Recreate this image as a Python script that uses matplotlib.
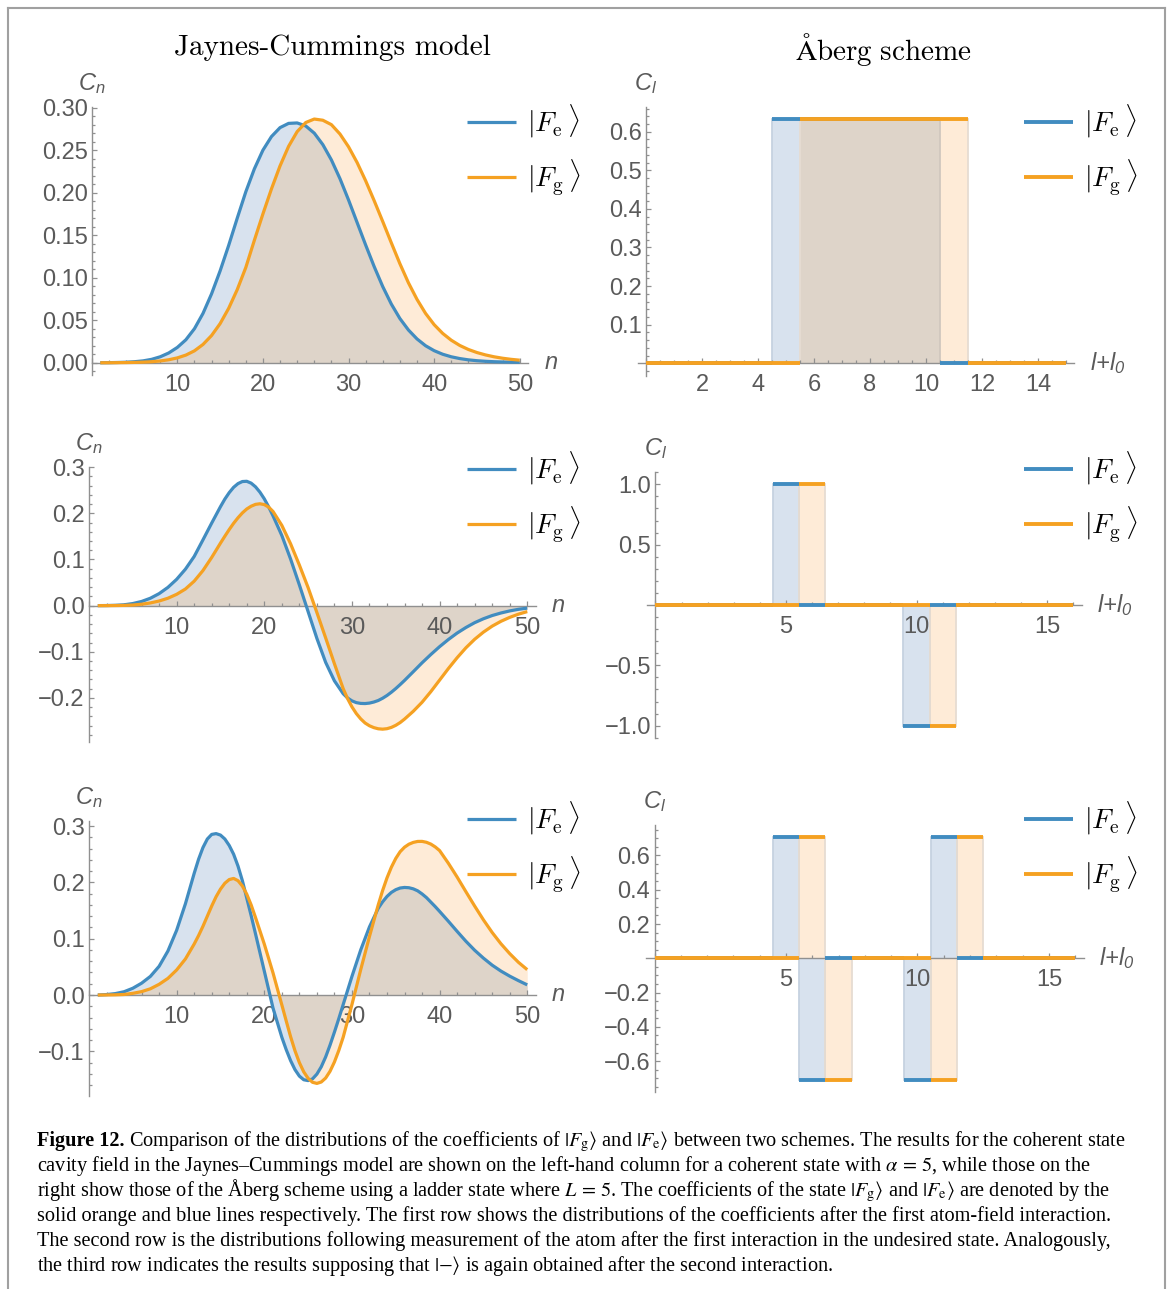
import numpy as np
import matplotlib
matplotlib.use("Agg")
import matplotlib.pyplot as plt
from matplotlib.ticker import MultipleLocator, FuncFormatter
from matplotlib.font_manager import FontProperties
from matplotlib.lines import Line2D

plt.rcParams['font.family'] = ['Liberation Sans', 'DejaVu Sans']
plt.rcParams['mathtext.fontset'] = 'custom'
plt.rcParams['mathtext.rm'] = 'Liberation Sans:italic'
plt.rcParams['mathtext.it'] = 'Liberation Sans:italic'

# ---- Jaynes-Cummings coefficients C_n ----
# row 1: integer n
n_row1 = np.arange(1, 51)
fe_jc1 = [0.0000, 0.0001, 0.0003, 0.0006, 0.0012, 0.0022, 0.0040, 0.0070, 0.0115, 0.0180,
          0.0270, 0.0400, 0.0580, 0.0810, 0.1080, 0.1380, 0.1700, 0.2010, 0.2280, 0.2500,
          0.2660, 0.2765, 0.2815, 0.2820, 0.2785, 0.2700, 0.2565, 0.2385, 0.2165, 0.1915,
          0.1650, 0.1385, 0.1130, 0.0895, 0.0690, 0.0520, 0.0385, 0.0280, 0.0200, 0.0142,
          0.0100, 0.0070, 0.0049, 0.0034, 0.0024, 0.0017, 0.0012, 0.0009, 0.0007, 0.0005]
fg_jc1 = [0.0000, 0.0000, 0.0001, 0.0002, 0.0004, 0.0007, 0.0012, 0.0021, 0.0035, 0.0057,
          0.0090, 0.0140, 0.0215, 0.0320, 0.0460, 0.0640, 0.0860, 0.1120, 0.1440, 0.1750,
          0.2045, 0.2315, 0.2545, 0.2718, 0.2825, 0.2866, 0.2852, 0.2800, 0.2690, 0.2540,
          0.2355, 0.2140, 0.1905, 0.1660, 0.1410, 0.1165, 0.0940, 0.0745, 0.0580, 0.0448,
          0.0345, 0.0265, 0.0203, 0.0156, 0.0120, 0.0092, 0.0070, 0.0053, 0.0040, 0.0030]

# row 2: half-unit steps around the extrema
n_row2 = np.concatenate([np.arange(1, 15), np.arange(15, 21.5, 0.5), np.arange(22, 29),
                         np.arange(29, 36.5, 0.5), np.arange(37, 51)])
fe_jc2 = [0.0000, 0.0002, 0.0007, 0.0018, 0.0045, 0.0090, 0.0160, 0.0260, 0.0395, 0.0570,
          0.0790, 0.1065, 0.1425, 0.1790,
          0.2145, 0.2310, 0.2450, 0.2565, 0.2645, 0.2690, 0.2695, 0.2655, 0.2575, 0.2460,
          0.2315, 0.2140, 0.1945,
          0.1520, 0.1010, 0.0450, -0.0130, -0.0710, -0.1230, -0.1630,
          -0.1910, -0.2002, -0.2065, -0.2103, -0.2120, -0.2123, -0.2113, -0.2090, -0.2057,
          -0.2008, -0.1948, -0.1877, -0.1798, -0.1712, -0.1622,
          -0.1432, -0.1240, -0.1060, -0.0890, -0.0735, -0.0595, -0.0475, -0.0370, -0.0285,
          -0.0215, -0.0160, -0.0115, -0.0080, -0.0055]
fg_jc2 = [0.0000, 0.0000, 0.0002, 0.0005, 0.0013, 0.0030, 0.0058, 0.0100, 0.0160, 0.0245,
          0.0360, 0.0530, 0.0760, 0.1045,
          0.1355, 0.1505, 0.1650, 0.1785, 0.1905, 0.2010, 0.2095, 0.2155, 0.2195, 0.2208,
          0.2190, 0.2135, 0.2040,
          0.1740, 0.1340, 0.0880, 0.0390, -0.0150, -0.0700, -0.1260,
          -0.1800, -0.2015, -0.2195, -0.2340, -0.2455, -0.2545, -0.2605, -0.2645, -0.2670,
          -0.2678, -0.2668, -0.2640, -0.2595, -0.2535, -0.2460,
          -0.2290, -0.2095, -0.1865, -0.1615, -0.1365, -0.1130, -0.0915, -0.0730, -0.0575,
          -0.0445, -0.0340, -0.0255, -0.0185, -0.0130]

# row 3
n_row3 = np.concatenate([np.arange(1, 12), np.arange(12, 19.5, 0.5), np.arange(20, 22),
                         np.arange(22, 29.5, 0.5), np.arange(30, 33),
                         np.arange(33, 40.5, 0.5), np.arange(41, 51)])
fe_jc3 = [0.0000, 0.0008, 0.0025, 0.0058, 0.0120, 0.0210, 0.0330, 0.0510, 0.0780, 0.1150,
          0.1620,
          0.2160, 0.2410, 0.2618, 0.2770, 0.2852, 0.2866, 0.2840, 0.2770, 0.2655, 0.2500,
          0.2290, 0.2030, 0.1720, 0.1410, 0.1085,
          0.0425, -0.0235,
          -0.0750, -0.0970, -0.1165, -0.1325, -0.1440, -0.1505, -0.1520, -0.1490, -0.1405,
          -0.1275, -0.1100, -0.0890, -0.0660, -0.0420, -0.0170,
          0.0330, 0.0800, 0.1210,
          0.1540, 0.1655, 0.1750, 0.1822, 0.1870, 0.1900, 0.1910, 0.1905, 0.1885, 0.1850,
          0.1795, 0.1730, 0.1650, 0.1570, 0.1485,
          0.1310, 0.1130, 0.0955, 0.0795, 0.0655, 0.0530, 0.0425, 0.0335, 0.0255, 0.0180]
fg_jc3 = [0.0000, 0.0001, 0.0003, 0.0009, 0.0030, 0.0060, 0.0110, 0.0190, 0.0295, 0.0445,
          0.0640,
          0.0905, 0.1055, 0.1220, 0.1400, 0.1580, 0.1745, 0.1880, 0.1985, 0.2050, 0.2070,
          0.2030, 0.1935, 0.1790, 0.1600, 0.1375,
          0.0905, 0.0390,
          -0.0175, -0.0460, -0.0740, -0.0990, -0.1200, -0.1365, -0.1480, -0.1550, -0.1570,
          -0.1545, -0.1475, -0.1355, -0.1190, -0.0985, -0.0750,
          -0.0170, 0.0450, 0.1040,
          0.1600, 0.1855, 0.2080, 0.2270, 0.2425, 0.2545, 0.2625, 0.2678, 0.2710, 0.2727,
          0.2728, 0.2712, 0.2680, 0.2630, 0.2565,
          0.2340, 0.2095, 0.1835, 0.1580, 0.1335, 0.1110, 0.0910, 0.0735, 0.0580, 0.0450]

# ---- Aberg ladder-state coefficients C_l ----
l_row1 = np.arange(0, 16)
fe_ab1 = [0, 0, 0, 0, 0, 0.632, 0.632, 0.632, 0.632, 0.632, 0.632, 0, 0, 0, 0, 0]
fg_ab1 = [0, 0, 0, 0, 0, 0, 0.632, 0.632, 0.632, 0.632, 0.632, 0.632, 0, 0, 0, 0]

l_row2 = np.arange(0, 17)
fe_ab2 = [0, 0, 0, 0, 0, 1.0, 0, 0, 0, 0, -1.0, 0, 0, 0, 0, 0, 0]
fg_ab2 = [0, 0, 0, 0, 0, 0, 1.0, 0, 0, 0, 0, -1.0, 0, 0, 0, 0, 0]

l_row3 = np.arange(0, 17)
fe_ab3 = [0, 0, 0, 0, 0, 0.707, -0.707, 0, 0, 0, -0.707, 0.707, 0, 0, 0, 0, 0]
fg_ab3 = [0, 0, 0, 0, 0, 0, 0.707, -0.707, 0, 0, 0, -0.707, 0.707, 0, 0, 0, 0]

BLUE = '#418cc0'
ORANGE = '#f5a122'
BLUE_FILL = (0.235, 0.43, 0.67, 0.2)
ORANGE_FILL = (0.98, 0.61, 0.215, 0.2)
AXIS_GRAY = '#909090'
LABEL_GRAY = '#5a5a5a'

W, H = 1168, 1289
fig = plt.figure(figsize=(W / 100, H / 100), dpi=100)


def px_axes(x0, x1, y0, y1):
    return fig.add_axes([x0 / W, 1 - y1 / H, (x1 - x0) / W, (y1 - y0) / H])


def fmt(decimals, skip_zero=False):
    def f(v, pos):
        if abs(v) < 1e-9:
            return '' if skip_zero else f'{0:.{decimals}f}'
        return f'{v:.{decimals}f}'.replace('-', '\u2212')
    return FuncFormatter(f)


def style_axes(ax, xlim, ylim, xmaj, xmin, ymaj, ymin, ydec, yskip0, ylab, xlab):
    ax.set_xlim(*xlim)
    ax.set_ylim(*ylim)
    for s in ['top', 'right']:
        ax.spines[s].set_visible(False)
    ax.spines['left'].set_position(('data', 0))
    ax.spines['bottom'].set_position(('data', 0))
    for s in ['left', 'bottom']:
        ax.spines[s].set_color(AXIS_GRAY)
        ax.spines[s].set_linewidth(1.0)
    ax.xaxis.set_major_locator(MultipleLocator(xmaj))
    ax.xaxis.set_minor_locator(MultipleLocator(xmin))
    ax.yaxis.set_major_locator(MultipleLocator(ymaj))
    ax.yaxis.set_minor_locator(MultipleLocator(ymin))
    ax.xaxis.set_major_formatter(fmt(0, True))
    ax.yaxis.set_major_formatter(fmt(ydec, yskip0))
    ax.tick_params(which='both', direction='in', color=AXIS_GRAY, width=0.9,
                   labelsize=17, labelcolor=LABEL_GRAY)
    ax.tick_params(which='major', length=3.5)
    ax.tick_params(which='minor', length=2.0)
    ax.tick_params(axis='x', pad=8)
    ax.tick_params(axis='y', pad=3)
    ax.patch.set_alpha(0)
    # axis names at the ends of the axes
    ax.annotate(ylab, xy=(0, ylim[1]), xycoords='data', xytext=(0, 8),
                textcoords='offset points', ha='center', va='bottom',
                fontsize=17, color=LABEL_GRAY)
    ax.annotate(xlab, xy=(xlim[1], 0), xycoords='data', xytext=(11, 0),
                textcoords='offset points', ha='left', va='center',
                fontsize=17, color=LABEL_GRAY)


LEG_PROP = FontProperties(size=20, math_fontfamily='cm')
LEG_LABELS = [r'$|F_{\mathrm{e}}\,\rangle$', r'$|F_{\mathrm{g}}\,\rangle$']


def add_legend(ax, handles, x_px, yc_px):
    ax.legend(handles, LEG_LABELS, loc='center left',
              bbox_to_anchor=(x_px / W, 1 - yc_px / H), bbox_transform=fig.transFigure,
              frameon=False, borderpad=0, borderaxespad=0, handlelength=1.75,
              handletextpad=0.42, labelspacing=0.63, prop=LEG_PROP)


def jc_panel(box, n, fe, fg, ylim, ymaj, ymin, ydec, leg_y):
    ax = px_axes(*box)
    ax.fill_between(n, fe, 0, color=BLUE_FILL, linewidth=0, zorder=1)
    ax.fill_between(n, fg, 0, color=ORANGE_FILL, linewidth=0, zorder=1)
    le, = ax.plot(n, fe, color=BLUE, lw=2.3, zorder=3, solid_capstyle='butt',
                  solid_joinstyle='round')
    lg, = ax.plot(n, fg, color=ORANGE, lw=2.3, zorder=3, solid_capstyle='butt',
                  solid_joinstyle='round')
    style_axes(ax, (0, 51), ylim, 10, 2, ymaj, ymin, ydec, False,
               r'$C_n$', r'$n$')
    add_legend(ax, [le, lg], 467, leg_y)
    return ax


def ladder_panel(box, l, fe, fg, xlim, xmaj, xmin, ylim, ymaj, ymin, ydec, leg_y):
    ax = px_axes(*box)
    lmax = l[-1]
    edges = np.concatenate([[0], np.arange(0.5, lmax, 1.0), [lmax]])
    left, right = edges[:-1], edges[1:]
    ax.stairs(fe, edges, baseline=0, fill=True, facecolor=BLUE_FILL,
              edgecolor='#c6d2e0', linewidth=1.3, zorder=1)
    ax.stairs(fg, edges, baseline=0, fill=True, facecolor=ORANGE_FILL,
              edgecolor='#e6dcd2', linewidth=1.3, zorder=1)
    le = ax.hlines(fe, left, right, colors=BLUE, linewidth=2.8, zorder=3)
    lg = ax.hlines(fg, left, right, colors=ORANGE, linewidth=2.8, zorder=3)
    style_axes(ax, xlim, ylim, xmaj, xmin, ymaj, ymin, ydec, True,
               r'$C_l$', r'$l{+}l_0$')
    add_legend(ax, [le, lg], 1024, leg_y)
    return ax


jc_panel((91.7, 528.3, 106.8, 374.9), n_row1, fe_jc1, fg_jc1, (-0.0143, 0.301),
         0.05, 0.01, 2, 150)
jc_panel((89.0, 536.0, 467.0, 741.7), n_row2, fe_jc2, fg_jc2, (-0.295, 0.3005),
         0.1, 0.02, 1, 497)
jc_panel((89.0, 536.0, 821.0, 1095.8), n_row3, fe_jc3, fg_jc3, (-0.179, 0.309),
         0.1, 0.02, 1, 847)

ladder_panel((637.6, 1074.4, 107.0, 375.6), l_row1, fe_ab1, fg_ab1, (-0.3, 15.3), 2, 0.5,
             (-0.032, 0.664), 0.1, 0.02, 1, 150)
ladder_panel((647.1, 1081.5, 472.3, 737.7), l_row2, fe_ab2, fg_ab2, (-0.32, 16.32), 5, 1,
             (-1.1, 1.1), 0.5, 0.1, 1, 497)
ladder_panel((646.1, 1083.7, 824.9, 1091.7), l_row3, fe_ab3, fg_ab3, (-0.32, 16.32), 5, 1,
             (-0.778, 0.778), 0.2, 0.05, 1, 847)

# column titles
fig.text(332 / W, 1 - 48 / H, 'Jaynes-Cummings model', fontfamily='cmr10',
         fontsize=21, ha='center', va='center')
fig.text(883 / W, 1 - 50 / H, r'$\mathrm{\AA berg\ scheme}$', math_fontfamily='cm',
         fontsize=21, ha='center', va='center')

# caption: bold lead-in, then the rest of the first line on the same baseline
cap_font = 'Liberation Serif'
cap_size = 14.6
cap_x = 37
cap_base = [1146, 1171, 1196, 1221, 1246, 1271]
head = fig.text(cap_x / W, 1 - cap_base[0] / H, 'Figure 12.', fontfamily=cap_font,
                fontweight='bold', fontsize=cap_size, va='baseline', ha='left')
fig.canvas.draw()
head_w = head.get_window_extent().width
first_rest = (r' Comparison of the distributions of the coefficients of $|F_{\rm g}\rangle$ and '
              r'$|F_{\rm e}\rangle$ between two schemes. The results for the coherent state')
cap_lines = [
    r'cavity field in the Jaynes–Cummings model are shown on the left-hand column for a coherent state with $\alpha\,=\,5$, while those on the',
    r'right show those of the Åberg scheme using a ladder state where $L\,=\,5$. The coefficients of the state $|F_{\rm g}\rangle$ and $|F_{\rm e}\rangle$ are denoted by the',
    'solid orange and blue lines respectively. The first row shows the distributions of the coefficients after the first atom-field interaction.',
    'The second row is the distributions following measurement of the atom after the first interaction in the undesired state. Analogously,',
    r'the third row indicates the results supposing that $|{-}\rangle$ is again obtained after the second interaction.',
]
fig.text((cap_x + head_w) / W, 1 - cap_base[0] / H, first_rest, fontfamily=cap_font,
         fontsize=cap_size, va='baseline', ha='left', math_fontfamily='stix')
for yb, line in zip(cap_base[1:], cap_lines):
    fig.text(cap_x / W, 1 - yb / H, line, fontfamily=cap_font, fontsize=cap_size,
             va='baseline', ha='left', math_fontfamily='stix')

# page frame
for xs, ys in [((8, 1165), (8, 8)), ((8, 8), (8, H)), ((1165, 1165), (8, H))]:
    fig.add_artist(Line2D([x / W for x in xs], [1 - y / H for y in ys],
                          transform=fig.transFigure, color='#a0a0a0', lw=1.5))

fig.savefig('out.png', dpi=100)
